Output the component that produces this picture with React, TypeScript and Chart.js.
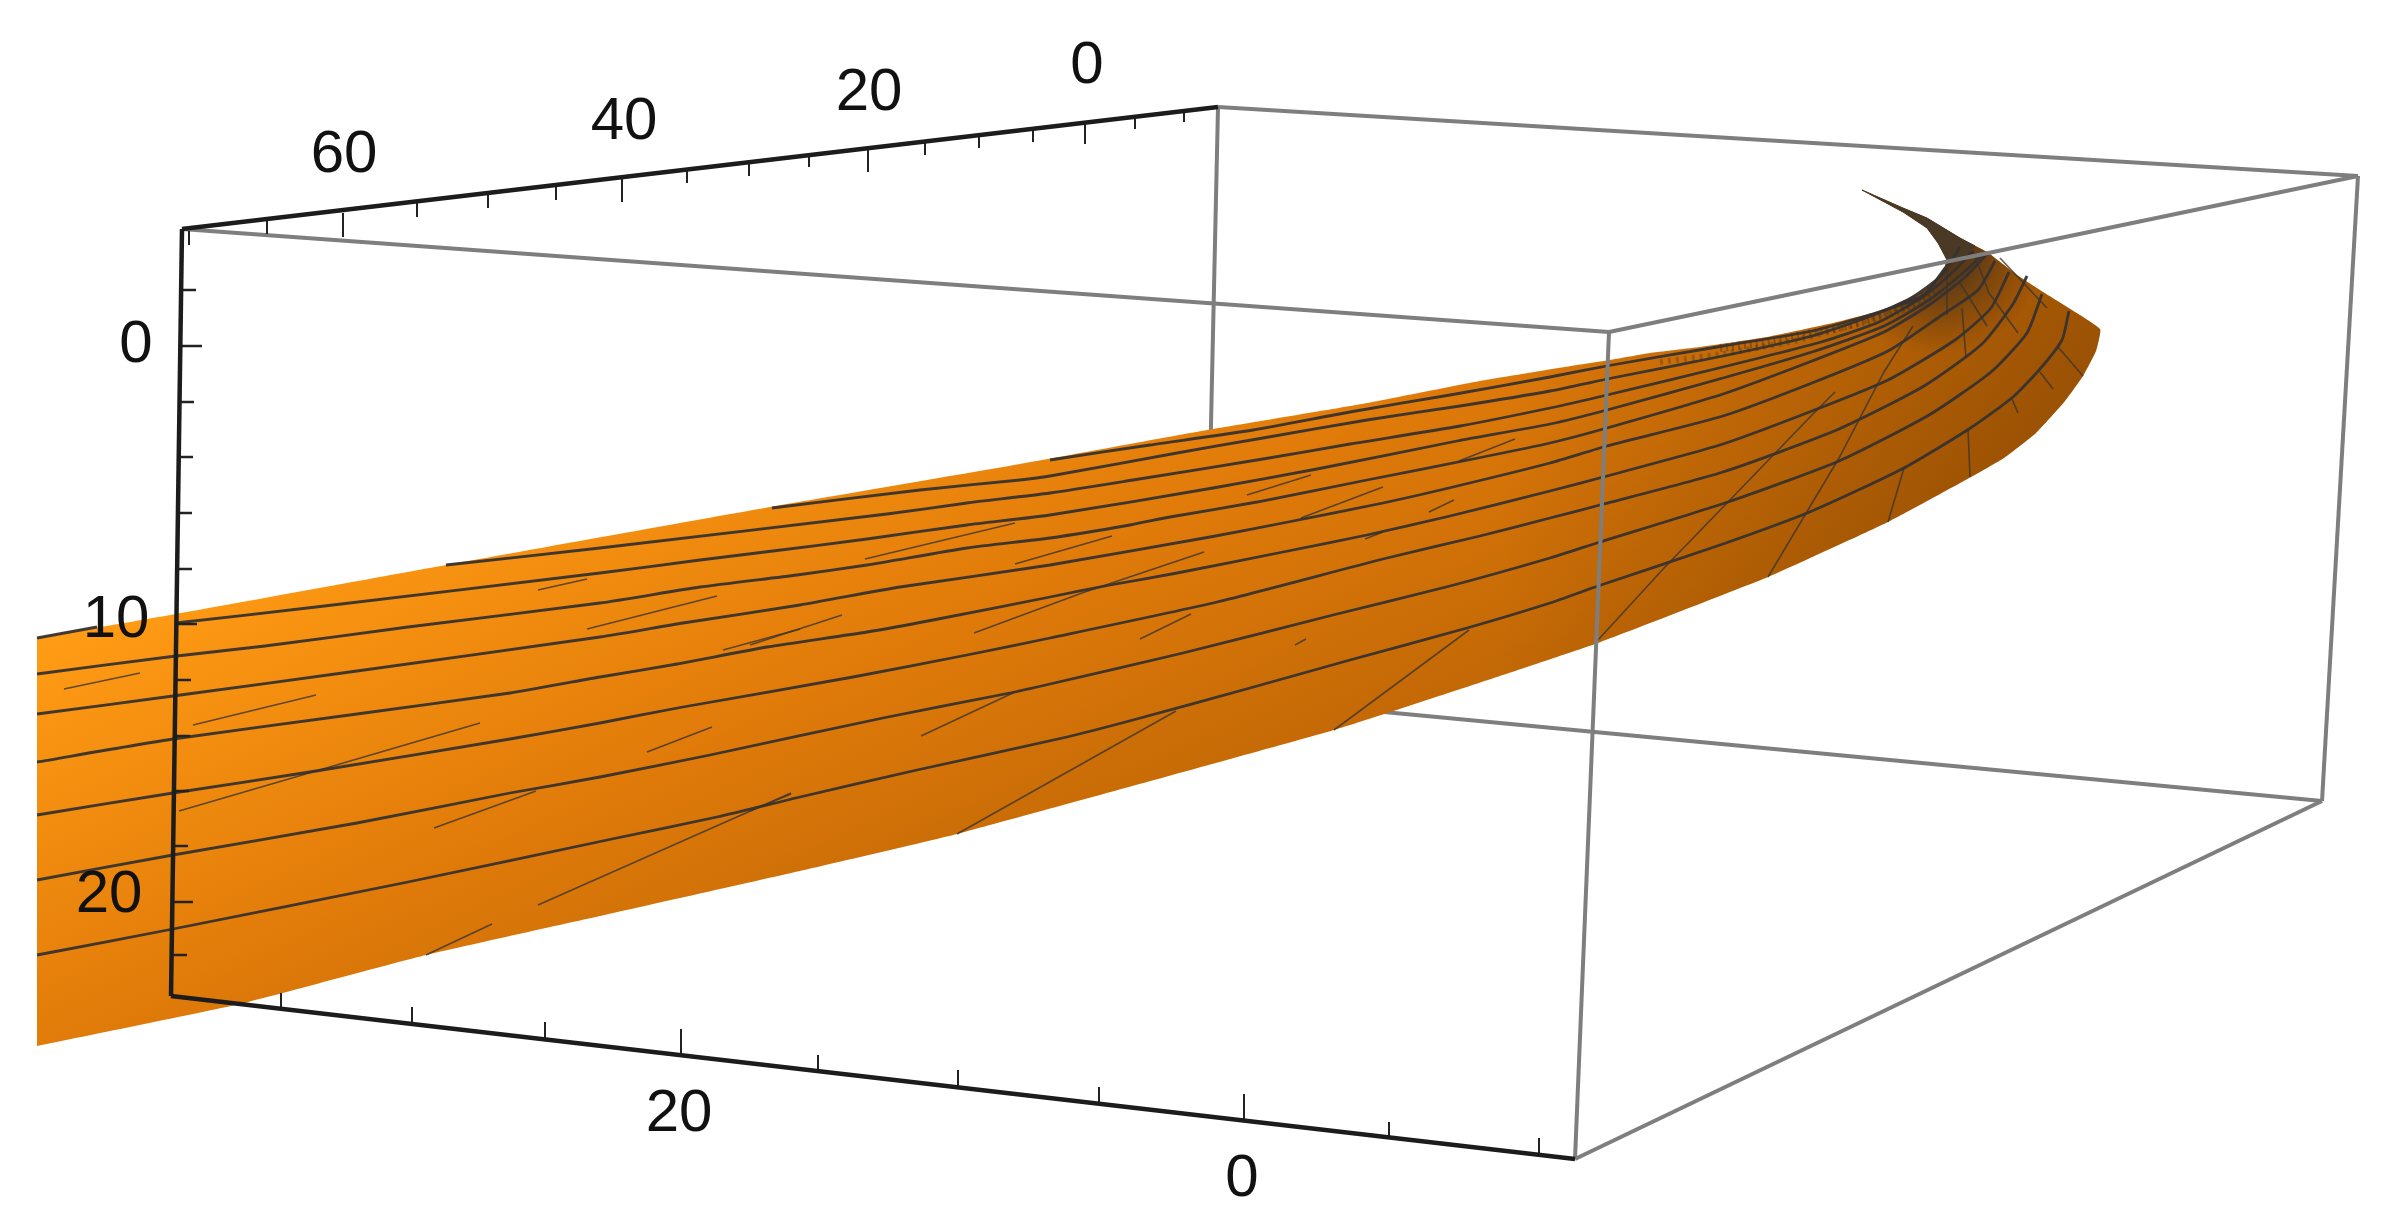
import React, { useEffect, useRef } from "react";
import { Chart, registerables } from "chart.js";

Chart.register(...registerables);

type P = [number, number];

const surfaceOutline: P[] = [[37,638],[176,614],[446,565],[770,507],[1020,464],[1207,430],[1362,404],[1480,381],[1571,366],[1610,360],[1650,353],[1700,347],[1767,337],[1833,323],[1883,310],[1920,293],[1938,280],[1947,260],[1938,243],[1927,228],[1903,212],[1862,190],[1903,208],[1927,218],[1960,238],[1987,252],[2017,275],[2043,292],[2100,329],[2096,351],[2083,376],[2065,401],[2036,433],[2004,458],[1971,477],[1888,522],[1768,577],[1598,643],[1500,676],[1334,730],[957,834],[800,871],[600,916],[426,955],[240,1004],[37,1046]];

const tipOutline: P[] = [[1947,260],[1938,243],[1927,228],[1903,212],[1862,190],[1903,208],[1927,218],[1960,238],[1975,246],[1960,262]];

const hatchedEdge: P[] = [[1720,348],[1767,342],[1833,329],[1883,317],[1920,301],[1938,288]];
const hatchedEdgeInner: P[] = [[1660,362],[1723,354],[1790,342],[1850,326],[1900,308],[1940,282]];

const longLine1: P[] = [[1050,460],[1150,445],[1253,430],[1350,412],[1450,395],[1550,377],[1612,365],[1723,346],[1812,331],[1879,312],[1924,295],[1945,268]];
const longLine2: P[] = [[772,508],[920,490],[1020,480],[1050,476],[1177,453],[1263,438],[1367,420],[1460,406],[1550,391],[1612,378],[1723,356],[1812,336],[1871,316],[1911,298],[1942,275],[1960,247]];
const longLine3: P[] = [[446,565],[600,548],[887,514],[967,503],[1050,493],[1133,480],[1263,459],[1350,444],[1460,426],[1550,408],[1607,395],[1723,367],[1821,342],[1879,322],[1924,296],[1955,270],[1973,251]];
const longLine4: P[] = [[176,623],[316,607],[600,573],[700,560],[773,551],[867,539],[967,525],[1050,515],[1213,488],[1317,469],[1457,441],[1550,424],[1607,410],[1723,378],[1812,352],[1884,326],[1929,300],[1964,272],[1985,252]];
const longLine5: P[] = [[37,674],[168,657],[265,646],[408,627],[600,603],[700,587],[797,575],[867,565],[967,548],[1050,538],[1130,525],[1170,517],[1257,502],[1367,480],[1483,457],[1550,443],[1607,428],[1723,394],[1812,361],[1884,332],[1929,305],[1964,278],[1987,254]];
const longLine6: P[] = [[37,714],[173,696],[357,671],[600,637],[683,623],[800,605],[900,587],[1050,565],[1210,537],[1283,523],[1383,503],[1453,487],[1550,463],[1607,446],[1723,416],[1812,383],[1888,351],[1942,315],[1978,290],[1995,261]];
const longLine7: P[] = [[37,762],[173,739],[357,714],[510,693],[600,677],[677,664],[767,647],[867,632],[933,620],[1050,597],[1110,585],[1177,573],[1283,552],[1367,535],[1450,516],[1550,491],[1607,476],[1723,444],[1812,411],[1888,380],[1955,340],[1991,308],[2009,272]];
const longLine8: P[] = [[37,815],[173,793],[316,771],[510,739],[600,723],[683,707],[853,677],[967,655],[1050,638],[1217,602],[1383,559],[1480,536],[1550,518],[1600,505],[1723,472],[1839,429],[1924,386],[1982,344],[2013,304],[2027,276]];
const longLine9: P[] = [[37,880],[173,855],[357,823],[510,793],[600,777],[710,755],[883,718],[1010,693],[1050,684],[1183,653],[1333,615],[1450,586],[1550,558],[1600,542],[1728,502],[1839,461],[1929,415],[1991,372],[2027,333],[2042,294]];
const longLine10: P[] = [[37,955],[173,929],[408,882],[612,839],[717,817],[800,797],[917,770],[1067,737],[1133,720],[1250,688],[1350,660],[1467,628],[1550,603],[1598,586],[1723,544],[1812,511],[1902,469],[1969,429],[2013,397],[2040,369],[2062,340],[2069,311]];
const edgeLine1: P[] = [[37,638],[97,627]];
const longLines: P[][] = [longLine1, longLine2, longLine3, longLine4, longLine5, longLine6, longLine7, longLine8, longLine9, longLine10, edgeLine1];

const crossLines: P[][] = [
  [[1768,577],[1839,458],[1884,372],[1913,326]],
  [[1598,640],[1665,567],[1728,502],[1812,415],[1835,392]],
  [[1888,522],[1904,468]],
  [[1970,477],[1968,429]],
  [[2018,413],[2012,399]],
  [[2053,389],[2040,372]],
  [[2083,376],[2058,347]],
  [[1966,358],[1962,308]],
  [[1987,326],[1960,283]],
  [[2018,333],[1989,293],[1973,251]],
  [[2047,308],[2000,258]],
  [[1947,315],[1947,270]],
  [[1334,730],[1469,630]],
  [[957,834],[1176,711]],
  [[921,736],[1015,692]],
  [[1140,639],[1191,614]],
  [[974,633],[1082,593],[1204,552]],
  [[1015,564],[1112,536]],
  [[750,645],[842,615]],
  [[865,559],[1015,523]],
  [[1247,495],[1311,475]],
  [[1301,518],[1383,487]],
  [[1365,539],[1383,532]],
  [[1429,512],[1454,500]],
  [[1459,461],[1515,439]],
  [[1295,645],[1306,639]],
  [[750,811],[791,794]],
  [[193,725],[316,695]],
  [[179,811],[316,771],[480,723]],
  [[434,828],[536,791]],
  [[538,905],[791,793]],
  [[426,955],[492,924]],
  [[647,752],[712,727]],
  [[587,629],[717,596]],
  [[723,650],[800,629]],
  [[64,689],[140,673]],
  [[538,590],[587,579]],
];

const boxBehind: P[][] = [
  [[1218,107],[1205,695]],
  [[1205,695],[2322,801]],
];
const boxFront: P[][] = [
  [[1218,107],[2358,176]],
  [[182,229],[1609,332]],
  [[1609,332],[2358,176]],
  [[1609,332],[1575,1159]],
  [[2358,176],[2322,801]],
  [[1575,1159],[2322,801]],
];
const axisLines: P[][] = [
  [[182,229],[1218,107]],
  [[182,229],[171,996]],
  [[171,996],[1575,1159]],
];

// [x, axis y, tick end y]
const topAxisTicks: number[][] = [[189,231,245],[267,217,234],[343,213,237],[417,203,217],[488,195,208],[556,187,200],[622,178,202],[687,170,183],[749,163,176],[809,156,167],[868,149,172],[925,143,155],[979,136,148],[1033,130,142],[1085,123,144],[1135,117,129],[1184,112,122]];
const bottomAxisTicks: number[][] = [[281,1008,993],[412,1024,1007],[545,1038,1022],[681,1055,1029],[818,1071,1055],[958,1087,1070],[1099,1103,1087],[1244,1120,1094],[1389,1136,1122],[1539,1153,1138]];
// [axis x, y, tick end x]
const leftAxisTicks: number[][] = [[181,290,196],[180,346,202],[180,402,194],[179,457,193],[178,513,192],[178,569,192],[177,624,197],[177,680,191],[176,736,190],[175,791,189],[174,846,188],[173,902,193],[173,955,187]];

const topAxisLabels = ["60", "40", "20", "0"];
const topAxisLabelPos: P[] = [[344,153],[624,120],[869,91],[1087,64]];
const leftAxisLabels = ["0", "10", "20"];
const leftAxisLabelPos: P[] = [[136,343],[116,618],[109,893]];
const bottomAxisLabels = ["20", "0"];
const bottomAxisLabelPos: P[] = [[679,1112],[1242,1177]];

const pts = (a: P[]) => a.map(([x, y]) => ({ x, y }));
const base = { showLine: true, pointRadius: 0, tension: 0, fill: false, borderCapStyle: "butt" as const };

export default function App() {
  const ref = useRef<HTMLCanvasElement>(null);
  useEffect(() => {
    const canvas = ref.current!;
    const ctx = canvas.getContext("2d")!;
    const bodyGrad = ctx.createLinearGradient(37, 650, 544, 1705);
    bodyGrad.addColorStop(0, "#ff9b14");
    bodyGrad.addColorStop(0.3, "#e27c0a");
    bodyGrad.addColorStop(0.6, "#bd6505");
    bodyGrad.addColorStop(1, "#8f4c00");
    const farGrad = ctx.createLinearGradient(1500, 0, 2100, 0);
    farGrad.addColorStop(0, "rgba(90,45,0,0)");
    farGrad.addColorStop(1, "rgba(90,45,0,0.4)");
    const tipGrad = ctx.createRadialGradient(1935, 245, 15, 1935, 245, 110);
    tipGrad.addColorStop(0, "rgba(60,45,30,0.95)");
    tipGrad.addColorStop(0.4, "rgba(70,48,25,0.6)");
    tipGrad.addColorStop(1, "rgba(90,50,10,0)");

    const datasets: any[] = [];
    boxBehind.forEach((l, i) => datasets.push({ ...base, label: "box back " + i, data: pts(l), borderColor: "#7e7e7e", borderWidth: 4, order: 100 }));
    const fillShape = { ...base, tension: 0.12, fill: "shape", borderColor: "rgba(0,0,0,0)", borderWidth: 0 };
    datasets.push({ ...fillShape, label: "surface", data: pts(surfaceOutline), backgroundColor: bodyGrad, order: 90 });
    datasets.push({ ...fillShape, label: "surface far shade", data: pts(surfaceOutline), backgroundColor: farGrad, order: 89 });
    datasets.push({ ...fillShape, label: "surface tip shade", data: pts(surfaceOutline), backgroundColor: tipGrad, order: 88 });
    datasets.push({ ...base, label: "tip", data: pts(tipOutline), fill: "shape", backgroundColor: "#4a3925", borderColor: "#4a3925", borderWidth: 1, order: 87 });
    datasets.push({ ...base, label: "edge hatch", data: pts(hatchedEdge), borderColor: "rgba(55,45,38,0.4)", borderWidth: 8, borderDash: [2, 4], order: 86 });
    datasets.push({ ...base, label: "edge hatch inner", data: pts(hatchedEdgeInner), borderColor: "rgba(55,45,38,0.3)", borderWidth: 6, borderDash: [3, 5], order: 86 });
    crossLines.forEach((l, i) => datasets.push({ ...base, label: "cross " + i, data: pts(l), borderColor: "rgba(60,52,45,0.8)", borderWidth: 1.6, order: 80 }));
    longLines.forEach((l, i) => datasets.push({ ...base, label: "long " + i, data: pts(l), tension: 0.2, borderColor: "rgba(55,50,46,0.95)", borderWidth: 2.8, order: 70 }));
    boxFront.forEach((l, i) => datasets.push({ ...base, label: "box " + i, data: pts(l), borderColor: "#7e7e7e", borderWidth: 4, order: 60 }));
    axisLines.forEach((l, i) => datasets.push({ ...base, label: "axis " + i, data: pts(l), borderColor: "#1c1c1c", borderWidth: 4.5, order: 50 }));
    topAxisTicks.forEach(([x, a, b], i) => datasets.push({ ...base, label: "top tick " + i, data: [{ x, y: a }, { x, y: b }], borderColor: "#222", borderWidth: 2, order: 50 }));
    bottomAxisTicks.forEach(([x, a, b], i) => datasets.push({ ...base, label: "bottom tick " + i, data: [{ x, y: a }, { x, y: b }], borderColor: "#222", borderWidth: 2, order: 50 }));
    leftAxisTicks.forEach(([x, y, e], i) => datasets.push({ ...base, label: "left tick " + i, data: [{ x, y }, { x: e, y }], borderColor: "#222", borderWidth: 2.5, order: 50 }));

    const labelPlugin = {
      id: "axisLabels",
      afterDatasetsDraw(chart: any) {
        const c = chart.ctx;
        const sx = chart.scales.x, sy = chart.scales.y;
        c.save();
        c.font = '60px "Liberation Sans", Arial, sans-serif';
        c.fillStyle = "#111";
        c.textAlign = "center";
        c.textBaseline = "middle";
        const put = (t: string[], p: P[]) => t.forEach((s, i) => c.fillText(s, sx.getPixelForValue(p[i][0]), sy.getPixelForValue(p[i][1]) + 2));
        put(topAxisLabels, topAxisLabelPos);
        put(leftAxisLabels, leftAxisLabelPos);
        put(bottomAxisLabels, bottomAxisLabelPos);
        c.restore();
      },
    };

    const chart = new Chart(canvas, {
      type: "scatter",
      data: { datasets },
      options: {
        animation: false,
        responsive: false,
        events: [],
        layout: { padding: 0 },
        plugins: { legend: { display: false }, tooltip: { enabled: false }, title: { display: false } },
        scales: {
          x: { type: "linear", display: false, min: 0, max: 2392 },
          y: { type: "linear", display: false, min: 0, max: 1231, reverse: true },
        },
      },
      plugins: [labelPlugin],
    } as any);
    return () => chart.destroy();
  }, []);
  return (
    <div style={{ position: "absolute", left: 0, top: 0, width: 2392, height: 1231, background: "#fff", overflow: "hidden" }}>
      <canvas ref={ref} width={2392} height={1231} style={{ display: "block" }} />
    </div>
  );
}
